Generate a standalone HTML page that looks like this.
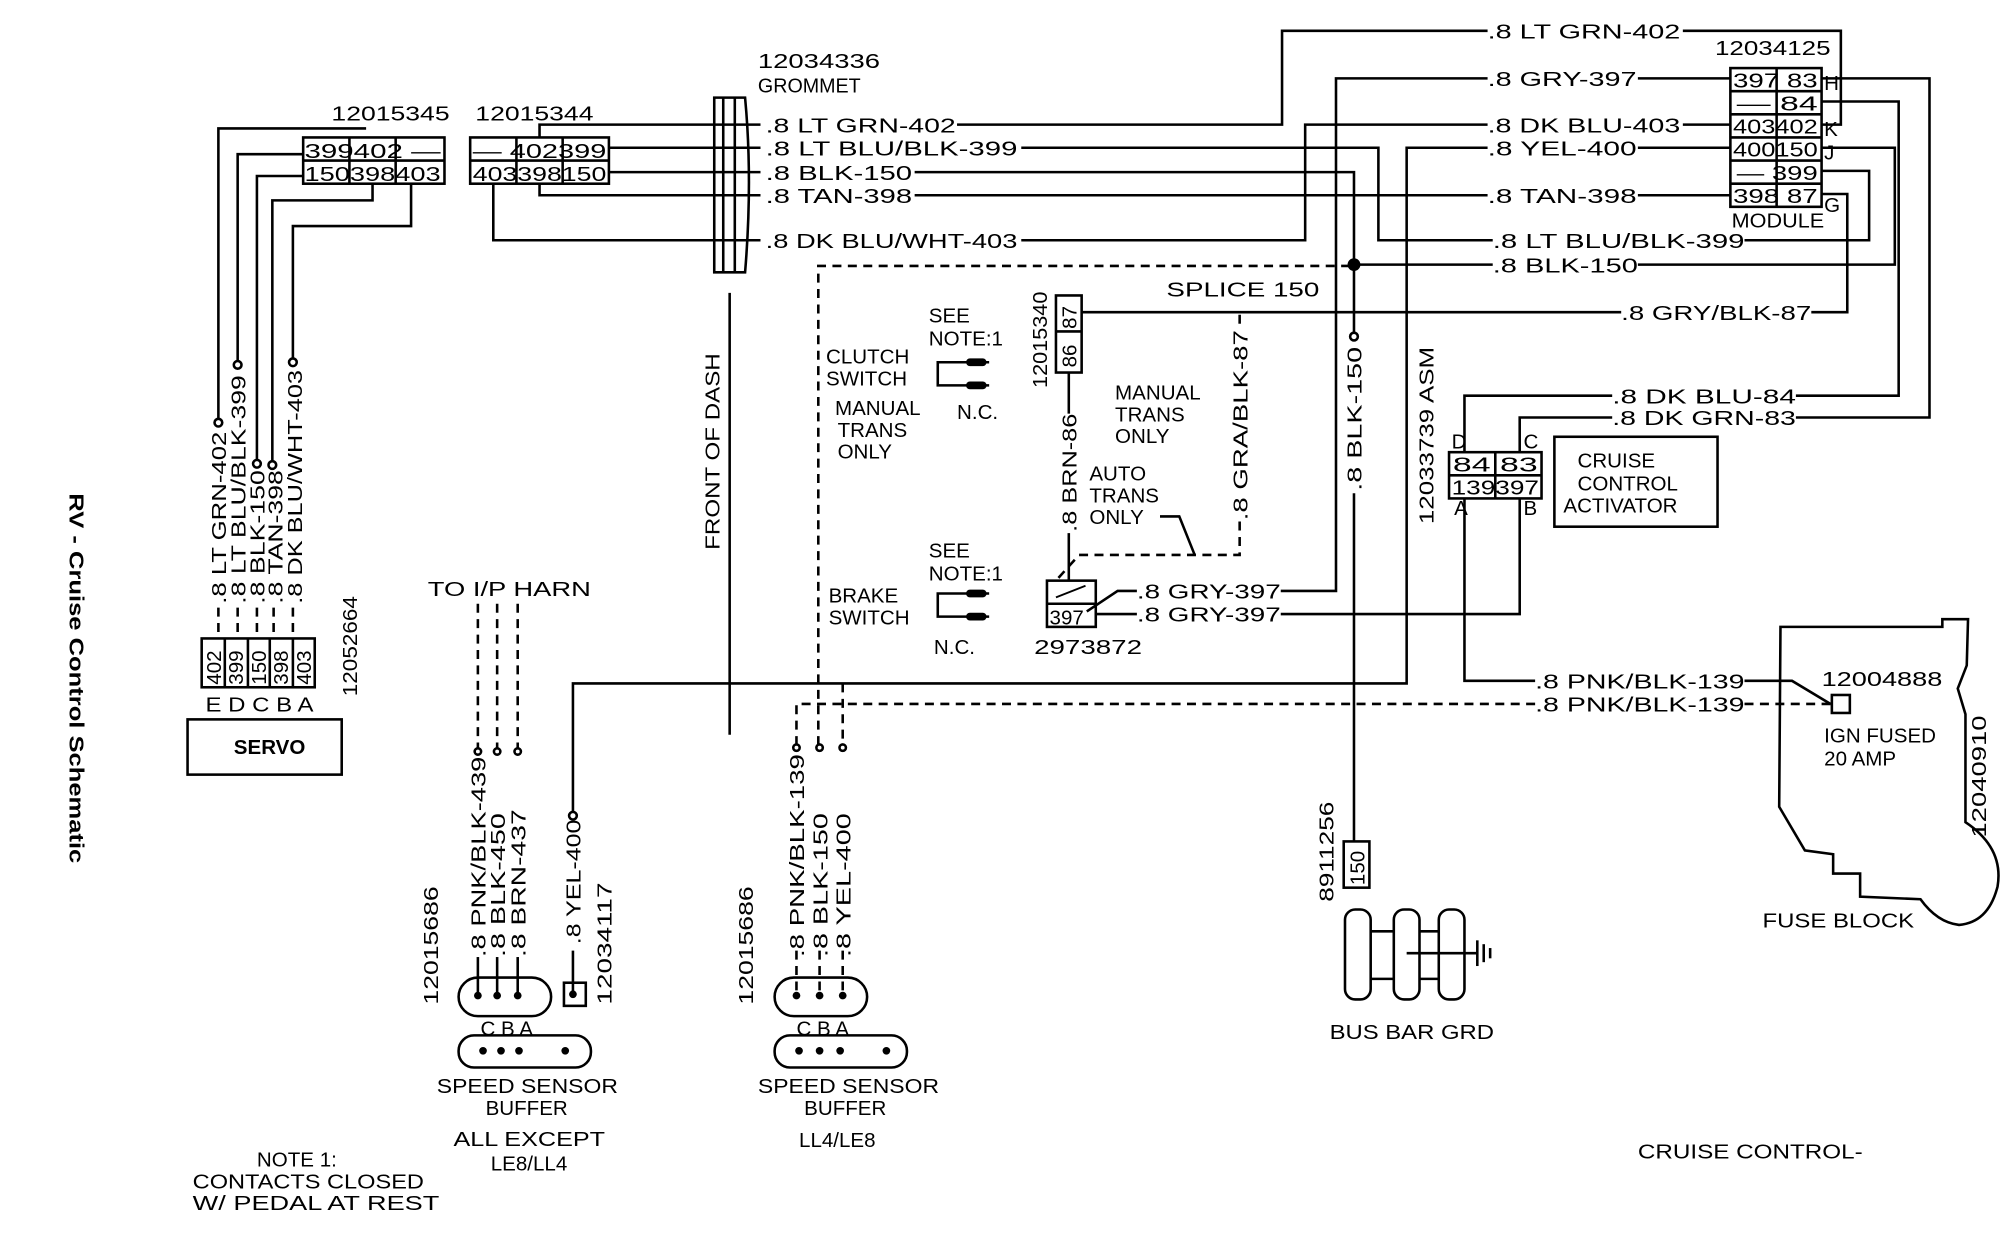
<!DOCTYPE html>
<html><head><meta charset="utf-8"><style>
html,body{margin:0;padding:0;background:#fff;}
svg{display:block;}
text{font-family:"Liberation Sans",sans-serif;font-size:16px;fill:#000;}
.b{font-weight:bold;}
</style></head><body>
<svg width="2004" height="1248" viewBox="0 0 1560 971.5" preserveAspectRatio="none" xmlns="http://www.w3.org/2000/svg">
<g fill="none" stroke="#000" stroke-width="2">
<rect x="236" y="107" width="110" height="36"/>
<line x1="236" y1="125" x2="346" y2="125"/><line x1="272" y1="107" x2="272" y2="143"/><line x1="308" y1="107" x2="308" y2="143"/>
<rect x="366" y="107" width="108" height="36"/>
<line x1="366" y1="125" x2="474" y2="125"/><line x1="402" y1="107" x2="402" y2="143"/><line x1="438" y1="107" x2="438" y2="143"/>
<polyline points="170,326 170,100 285,100"/>
<polyline points="185,281 185,120 236,120"/>
<polyline points="200,358 200,137 236,137"/>
<polyline points="212,359 212,156 290,156 290,143"/>
<polyline points="228,279 228,176 320,176 320,143"/>
<circle cx="170" cy="329" r="3"/><circle cx="185" cy="284" r="3"/><circle cx="200" cy="361" r="3"/><circle cx="212" cy="362" r="3"/><circle cx="228" cy="282" r="3"/>
<polyline points="420,107 420,97 592,97"/>
<line x1="474" y1="115" x2="592" y2="115"/>
<line x1="474" y1="134" x2="592" y2="134"/>
<polyline points="420,143 420,152 592,152"/>
<polyline points="384,143 384,187 592,187"/>
<path d="M556,76 L580,76 Q586,140 580,212 L556,212 Z"/>
<line x1="563" y1="76" x2="563" y2="212"/><line x1="572" y1="76" x2="572" y2="212"/>
<line x1="568" y1="228" x2="568" y2="572"/>
<polyline points="745,97 998,97 998,24 1158,24"/>
<polyline points="1310,24 1433,24 1433,97 1418,97"/>
<polyline points="795,115 1073,115 1073,187 1162,187"/>
<polyline points="1358,187 1455,187 1455,133 1418,133"/>
<polyline points="712,134 1054,134 1054,259"/>
<polyline points="1275,206 1475,206 1475,115 1418,115"/>
<line x1="1054" y1="206" x2="1162" y2="206"/>
<line x1="712" y1="152" x2="1158" y2="152"/><line x1="1275" y1="152" x2="1347" y2="152"/>
<polyline points="795,187 1016,187 1016,97 1158,97"/><line x1="1310" y1="97" x2="1347" y2="97"/>
<polyline points="1275,115 1347,115"/><polyline points="1158,115 1095,115 1095,532 446,532 446,632"/>
<circle cx="446" cy="635" r="3"/>
<polyline points="1275,61 1347,61"/><polyline points="1158,61 1040,61 1040,460 997,460"/>
<rect x="1347" y="53" width="71" height="108"/>
<line x1="1383" y1="53" x2="1383" y2="161"/>
<line x1="1347" y1="71" x2="1418" y2="71"/><line x1="1347" y1="89" x2="1418" y2="89"/><line x1="1347" y1="107" x2="1418" y2="107"/><line x1="1347" y1="125" x2="1418" y2="125"/><line x1="1347" y1="143" x2="1418" y2="143"/>
<polyline points="1418,61 1502,61 1502,325 1398,325"/>
<polyline points="1418,79 1478,79 1478,308 1398,308"/>
<polyline points="1418,151 1438,151 1438,243 1410,243"/>
<polyline points="1262,243 842,243"/>
<polyline points="1255,308 1140,308 1140,352"/>
<polyline points="1255,325 1183,325 1183,352"/>
<rect x="1128" y="352" width="72" height="36"/><line x1="1128" y1="370" x2="1200" y2="370"/><line x1="1164" y1="352" x2="1164" y2="388"/>
<rect x="1210" y="340" width="127" height="70"/>
<polyline points="1140,388 1140,530 1195,530"/>
<polyline points="1183,388 1183,478 997,478"/>
<polyline points="1358,530 1395,530 1425,548"/>
<rect x="1426" y="541" width="14" height="14"/>
<circle cx="1054" cy="206" r="4" fill="#000"/>
<circle cx="1054" cy="262" r="3" fill="#fff"/>
<line x1="1054" y1="384" x2="1054" y2="655"/>
<rect x="1046" y="655" width="20" height="36"/>
<rect x="822" y="230" width="20" height="60"/><line x1="822" y1="258" x2="842" y2="258"/>
<line x1="832" y1="290" x2="832" y2="322"/><line x1="832" y1="415" x2="832" y2="452"/>
<rect x="815" y="452" width="38" height="36"/><line x1="815" y1="470" x2="853" y2="470"/>
<line x1="822" y1="465" x2="845" y2="456" stroke-width="1.5"/>
<polyline points="853,478 885,478"/><polyline points="846,476 870,460 885,460"/>
<rect x="1047" y="708" width="20" height="70" rx="8"/><rect x="1085" y="708" width="20" height="70" rx="8"/><rect x="1120" y="708" width="20" height="70" rx="8"/>
<line x1="1067" y1="725" x2="1085" y2="725"/><line x1="1105" y1="725" x2="1120" y2="725"/>
<line x1="1067" y1="762" x2="1085" y2="762"/><line x1="1105" y1="762" x2="1120" y2="762"/>
<line x1="1095" y1="742" x2="1150" y2="742"/><line x1="1150" y1="732" x2="1150" y2="752"/><line x1="1155" y1="735" x2="1155" y2="749"/><line x1="1160" y1="738" x2="1160" y2="746"/>
<path d="M1386,488 L1512,488 L1512,482 L1532,482 L1531,518 L1524,536 L1530,556 L1530,640 Q1560,660 1555,690 Q1548,718 1525,720 Q1508,718 1495,700 L1448,698 L1448,680 L1427,680 L1427,665 L1405,662 L1385,628 Z"/>
<rect x="157" y="497" width="88" height="38"/>
<line x1="175" y1="497" x2="175" y2="535"/><line x1="193" y1="497" x2="193" y2="535"/><line x1="210" y1="497" x2="210" y2="535"/><line x1="228" y1="497" x2="228" y2="535"/>
<rect x="146" y="560" width="120" height="43"/>
<line x1="446" y1="740" x2="446" y2="772"/>
<rect x="439" y="765" width="17" height="18"/>
<rect x="357" y="761" width="72" height="30" rx="15"/>
<rect x="357" y="806" width="103" height="25" rx="12"/>
<rect x="603" y="761" width="72" height="30" rx="15"/>
<rect x="603" y="806" width="103" height="25" rx="12"/>
<line x1="372" y1="745" x2="372" y2="775"/><line x1="387" y1="745" x2="387" y2="775"/><line x1="403" y1="745" x2="403" y2="775"/>
<circle cx="372" cy="585" r="2.5"/><circle cx="387" cy="585" r="2.5"/><circle cx="403" cy="585" r="2.5"/>
<circle cx="620" cy="582" r="2.5"/><circle cx="638" cy="582" r="2.5"/><circle cx="656" cy="582" r="2.5"/>
</g>
<g fill="none" stroke="#000" stroke-width="2" stroke-dasharray="7,5">
<polyline points="637,580 637,207 1054,207"/>
<polyline points="620,580 620,548 1195,548"/>
<line x1="1358" y1="548" x2="1426" y2="548"/>
<line x1="656" y1="532" x2="656" y2="580"/>
<line x1="965" y1="245" x2="965" y2="256"/>
<polyline points="965,406 965,432 840,432 822,452"/>
<line x1="372" y1="470" x2="372" y2="582"/><line x1="387" y1="470" x2="387" y2="582"/><line x1="403" y1="470" x2="403" y2="582"/>
<line x1="620" y1="740" x2="620" y2="775"/><line x1="638" y1="740" x2="638" y2="775"/><line x1="656" y1="740" x2="656" y2="775"/>
<line x1="170" y1="473" x2="170" y2="497"/><line x1="185" y1="473" x2="185" y2="497"/><line x1="200" y1="473" x2="200" y2="497"/><line x1="213" y1="473" x2="213" y2="497"/><line x1="228" y1="473" x2="228" y2="497"/>
</g>
<g fill="none" stroke="#000" stroke-width="2">
<polyline points="903,402 918,402 930,432"/>
<polyline points="770,282 730,282 730,300 770,300"/>
<polyline points="770,462 730,462 730,480 770,480"/>
</g>
<g fill="#000">
<rect x="752" y="279" width="16" height="6" rx="3"/><rect x="752" y="297" width="16" height="6" rx="3"/>
<rect x="752" y="459" width="16" height="6" rx="3"/><rect x="752" y="477" width="16" height="6" rx="3"/>
<circle cx="372" cy="775" r="3"/><circle cx="387" cy="775" r="3"/><circle cx="403" cy="775" r="3"/><circle cx="446" cy="774" r="3"/>
<circle cx="376" cy="818" r="3"/><circle cx="390" cy="818" r="3"/><circle cx="404" cy="818" r="3"/><circle cx="440" cy="818" r="3"/>
<circle cx="620" cy="775" r="3"/><circle cx="638" cy="775" r="3"/><circle cx="656" cy="775" r="3"/>
<circle cx="622" cy="818" r="3"/><circle cx="638" cy="818" r="3"/><circle cx="654" cy="818" r="3"/><circle cx="690" cy="818" r="3"/>
</g>

<text x="258" y="94" textLength="92" lengthAdjust="spacingAndGlyphs">12015345</text>
<text x="370" y="94" textLength="92" lengthAdjust="spacingAndGlyphs">12015344</text>
<text x="237" y="123" font-size="14" textLength="106" lengthAdjust="spacingAndGlyphs">399402 —</text>
<text x="237" y="141" font-size="14" textLength="106" lengthAdjust="spacingAndGlyphs">150398403</text>
<text x="368" y="123" font-size="14" textLength="104" lengthAdjust="spacingAndGlyphs">— 402399</text>
<text x="368" y="141" font-size="14" textLength="104" lengthAdjust="spacingAndGlyphs">403398150</text>
<text x="590" y="53" textLength="95" lengthAdjust="spacingAndGlyphs">12034336</text>
<text x="590" y="72" textLength="80" lengthAdjust="spacingAndGlyphs">GROMMET</text>
<text x="596" y="103" textLength="148" lengthAdjust="spacingAndGlyphs">.8 LT GRN-402</text>
<text x="596" y="121" textLength="196" lengthAdjust="spacingAndGlyphs">.8 LT BLU/BLK-399</text>
<text x="596" y="140" textLength="114" lengthAdjust="spacingAndGlyphs">.8 BLK-150</text>
<text x="596" y="158" textLength="114" lengthAdjust="spacingAndGlyphs">.8 TAN-398</text>
<text x="596" y="193" textLength="196" lengthAdjust="spacingAndGlyphs">.8 DK BLU/WHT-403</text>

<text x="1158" y="30" textLength="150" lengthAdjust="spacingAndGlyphs">.8 LT GRN-402</text>
<text x="1158" y="67" textLength="116" lengthAdjust="spacingAndGlyphs">.8 GRY-397</text>
<text x="1158" y="103" textLength="150" lengthAdjust="spacingAndGlyphs">.8 DK BLU-403</text>
<text x="1158" y="121" textLength="116" lengthAdjust="spacingAndGlyphs">.8 YEL-400</text>
<text x="1158" y="158" textLength="116" lengthAdjust="spacingAndGlyphs">.8 TAN-398</text>
<text x="1162" y="193" textLength="196" lengthAdjust="spacingAndGlyphs">.8 LT BLU/BLK-399</text>
<text x="1162" y="212" textLength="113" lengthAdjust="spacingAndGlyphs">.8 BLK-150</text>
<text x="1262" y="249" textLength="148" lengthAdjust="spacingAndGlyphs">.8 GRY/BLK-87</text>
<text x="1255" y="314" textLength="143" lengthAdjust="spacingAndGlyphs">.8 DK BLU-84</text>
<text x="1255" y="331" textLength="143" lengthAdjust="spacingAndGlyphs">.8 DK GRN-83</text>
<text x="1335" y="43" textLength="90" lengthAdjust="spacingAndGlyphs">12034125</text>
<text x="1349" y="68" font-size="15" textLength="66" lengthAdjust="spacingAndGlyphs">397 83</text>
<text x="1352" y="86" font-size="15" textLength="63" lengthAdjust="spacingAndGlyphs">—  84</text>
<text x="1349" y="104" font-size="15" textLength="66" lengthAdjust="spacingAndGlyphs">403402</text>
<text x="1349" y="122" font-size="15" textLength="66" lengthAdjust="spacingAndGlyphs">400150</text>
<text x="1352" y="140" font-size="15" textLength="63" lengthAdjust="spacingAndGlyphs">—  399</text>
<text x="1349" y="158" font-size="15" textLength="66" lengthAdjust="spacingAndGlyphs">398 87</text>
<text x="1348" y="177" textLength="72" lengthAdjust="spacingAndGlyphs">MODULE</text>
<text x="1420" y="70" font-size="11">H</text><text x="1420" y="106" font-size="11">K</text><text x="1420" y="124" font-size="11">J</text><text x="1420" y="165" font-size="11">G</text>

<text x="908" y="231" textLength="119" lengthAdjust="spacingAndGlyphs">SPLICE 150</text>
<text x="723" y="251">SEE</text><text x="723" y="269">NOTE:1</text>
<text x="643" y="283">CLUTCH</text><text x="643" y="300">SWITCH</text>
<text x="650" y="323">MANUAL</text><text x="652" y="340">TRANS</text><text x="652" y="357">ONLY</text>
<text x="745" y="326">N.C.</text>
<text x="868" y="311">MANUAL</text><text x="868" y="328">TRANS</text><text x="868" y="345">ONLY</text>
<text x="848" y="374">AUTO</text><text x="848" y="391">TRANS</text><text x="848" y="408">ONLY</text>
<text x="723" y="434">SEE</text><text x="723" y="452">NOTE:1</text>
<text x="645" y="469">BRAKE</text><text x="645" y="486">SWITCH</text>
<text x="727" y="509">N.C.</text>
<text x="805" y="509" textLength="84" lengthAdjust="spacingAndGlyphs">2973872</text>
<text x="885" y="466" textLength="112" lengthAdjust="spacingAndGlyphs">.8 GRY-397</text>
<text x="885" y="484" textLength="112" lengthAdjust="spacingAndGlyphs">.8 GRY-397</text>
<text x="817" y="486" font-size="14">397</text>
<text x="1130" y="349" font-size="14">D</text><text x="1186" y="349" font-size="14">C</text>
<text x="1132" y="401" font-size="14">A</text><text x="1186" y="401" font-size="14">B</text>
<text x="1131" y="367" font-size="14" textLength="66" lengthAdjust="spacingAndGlyphs">84 83</text>
<text x="1130" y="385" font-size="14" textLength="68" lengthAdjust="spacingAndGlyphs">139397</text>
<text x="1228" y="364">CRUISE</text><text x="1228" y="382">CONTROL</text><text x="1217" y="399">ACTIVATOR</text>
<text x="1195" y="536" textLength="163" lengthAdjust="spacingAndGlyphs">.8 PNK/BLK-139</text>
<text x="1195" y="554" textLength="163" lengthAdjust="spacingAndGlyphs">.8 PNK/BLK-139</text>
<text x="1418" y="534" textLength="94" lengthAdjust="spacingAndGlyphs">12004888</text>
<text x="1420" y="578">IGN FUSED</text><text x="1420" y="596">20 AMP</text>
<text x="1372" y="722" textLength="118" lengthAdjust="spacingAndGlyphs">FUSE BLOCK</text>
<text x="1035" y="809" textLength="128" lengthAdjust="spacingAndGlyphs">BUS BAR GRD</text>
<text x="1275" y="902" textLength="175" lengthAdjust="spacingAndGlyphs">CRUISE CONTROL-</text>
<text x="333" y="464" textLength="127" lengthAdjust="spacingAndGlyphs">TO I/P HARN</text>
<text x="374" y="806">C B A</text><text x="620" y="806">C B A</text>
<text x="340" y="851" textLength="141" lengthAdjust="spacingAndGlyphs">SPEED SENSOR</text>
<text x="378" y="868">BUFFER</text>
<text x="353" y="892" textLength="118" lengthAdjust="spacingAndGlyphs">ALL EXCEPT</text>
<text x="382" y="911">LE8/LL4</text>
<text x="590" y="851" textLength="141" lengthAdjust="spacingAndGlyphs">SPEED SENSOR</text>
<text x="626" y="868">BUFFER</text>
<text x="622" y="893">LL4/LE8</text>
<text x="200" y="908">NOTE 1:</text>
<text x="150" y="925" textLength="180" lengthAdjust="spacingAndGlyphs">CONTACTS CLOSED</text>
<text x="150" y="942" textLength="192" lengthAdjust="spacingAndGlyphs">W/ PEDAL AT REST</text>
<text x="160" y="554" textLength="84" lengthAdjust="spacingAndGlyphs">E D C B A</text>
<text x="182" y="587" class="b">SERVO</text>

<g font-size="15">
<text transform="translate(176,470) rotate(-90)" textLength="134" lengthAdjust="spacingAndGlyphs">.8 LT GRN-402</text>
<text transform="translate(191,470) rotate(-90)" textLength="178" lengthAdjust="spacingAndGlyphs">.8 LT BLU/BLK-399</text>
<text transform="translate(206,470) rotate(-90)" textLength="104" lengthAdjust="spacingAndGlyphs">.8 BLK-150</text>
<text transform="translate(220,470) rotate(-90)" textLength="104" lengthAdjust="spacingAndGlyphs">.8 TAN-398</text>
<text transform="translate(235,470) rotate(-90)" textLength="182" lengthAdjust="spacingAndGlyphs">.8 DK BLU/WHT-403</text>
<text transform="translate(278,542) rotate(-90)" textLength="78" lengthAdjust="spacingAndGlyphs">12052664</text>
<text transform="translate(172,533) rotate(-90)" font-size="13">402</text>
<text transform="translate(189,533) rotate(-90)" font-size="13">399</text>
<text transform="translate(207,533) rotate(-90)" font-size="13">150</text>
<text transform="translate(224,533) rotate(-90)" font-size="13">398</text>
<text transform="translate(242,533) rotate(-90)" font-size="13">403</text>
<text transform="translate(560,428) rotate(-90)" textLength="153" lengthAdjust="spacingAndGlyphs">FRONT OF DASH</text>
<text transform="translate(815,302) rotate(-90)" textLength="75" lengthAdjust="spacingAndGlyphs">12015340</text>
<text transform="translate(838,256) rotate(-90)" font-size="12">87</text>
<text transform="translate(838,286) rotate(-90)" font-size="12">86</text>
<text transform="translate(838,414) rotate(-90)" textLength="92" lengthAdjust="spacingAndGlyphs">.8 BRN-86</text>
<text transform="translate(971,405) rotate(-90)" textLength="148" lengthAdjust="spacingAndGlyphs">.8 GRA/BLK-87</text>
<text transform="translate(1060,382) rotate(-90)" textLength="112" lengthAdjust="spacingAndGlyphs">.8 BLK-150</text>
<text transform="translate(1116,408) rotate(-90)" textLength="138" lengthAdjust="spacingAndGlyphs">12033739 ASM</text>
<text transform="translate(1038,702) rotate(-90)" textLength="78" lengthAdjust="spacingAndGlyphs">8911256</text>
<text transform="translate(1062,689) rotate(-90)" font-size="13">150</text>
<text transform="translate(1546,652) rotate(-90)" textLength="95" lengthAdjust="spacingAndGlyphs">12040910</text>
<text transform="translate(378,745) rotate(-90)" textLength="156" lengthAdjust="spacingAndGlyphs">.8 PNK/BLK-439</text>
<text transform="translate(393,745) rotate(-90)" textLength="112" lengthAdjust="spacingAndGlyphs">.8 BLK-450</text>
<text transform="translate(409,745) rotate(-90)" textLength="115" lengthAdjust="spacingAndGlyphs">.8 BRN-437</text>
<text transform="translate(452,735) rotate(-90)" textLength="97" lengthAdjust="spacingAndGlyphs">.8 YEL-400</text>
<text transform="translate(341,782) rotate(-90)" textLength="92" lengthAdjust="spacingAndGlyphs">12015686</text>
<text transform="translate(476,782) rotate(-90)" textLength="95" lengthAdjust="spacingAndGlyphs">12034117</text>
<text transform="translate(626,745) rotate(-90)" textLength="158" lengthAdjust="spacingAndGlyphs">.8 PNK/BLK-139</text>
<text transform="translate(644,745) rotate(-90)" textLength="112" lengthAdjust="spacingAndGlyphs">.8 BLK-150</text>
<text transform="translate(662,745) rotate(-90)" textLength="112" lengthAdjust="spacingAndGlyphs">.8 YEL-400</text>
<text transform="translate(586,782) rotate(-90)" textLength="92" lengthAdjust="spacingAndGlyphs">12015686</text>
</g>
<text transform="translate(54,384) rotate(90)" class="b" font-size="15" textLength="288" lengthAdjust="spacingAndGlyphs">RV - Cruise Control Schematic</text>
</svg>
</body></html>
